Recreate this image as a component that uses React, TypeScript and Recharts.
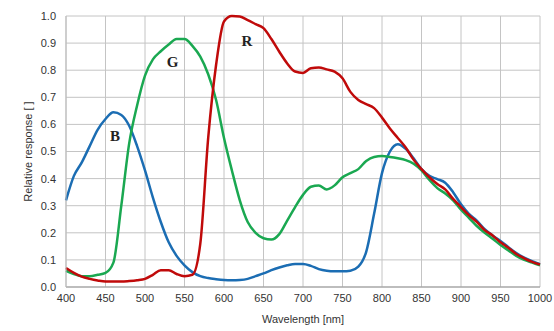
import { CartesianGrid, Line, LineChart, ReferenceDot, XAxis, YAxis } from "recharts";

const wavelengths = [
  400, 410, 420, 430, 440, 450, 460, 470, 480, 490,
  500, 510, 520, 530, 540, 550, 560, 570, 580, 590,
  600, 610, 620, 630, 640, 650, 660, 670, 680, 690,
  700, 710, 720, 730, 740, 750, 760, 770, 780, 790,
  800, 810, 820, 830, 840, 850, 860, 870, 880, 890,
  900, 910, 920, 930, 940, 950, 960, 970, 980, 990, 1000,
];

const blue = [
  0.32, 0.41, 0.46, 0.52, 0.58, 0.62, 0.645, 0.635, 0.595, 0.52,
  0.43, 0.33, 0.24, 0.165, 0.115, 0.08, 0.055, 0.04, 0.033, 0.029,
  0.026, 0.025, 0.026, 0.03, 0.04, 0.05, 0.062, 0.072, 0.08, 0.085,
  0.085, 0.078, 0.066, 0.06, 0.058, 0.058, 0.06, 0.075, 0.13, 0.27,
  0.42, 0.5, 0.527, 0.51, 0.475, 0.435, 0.41, 0.398, 0.385, 0.35,
  0.305, 0.27, 0.245, 0.213, 0.19, 0.17, 0.147, 0.125, 0.108, 0.095, 0.084,
];

const green = [
  0.06, 0.048, 0.04, 0.04, 0.045, 0.052, 0.09, 0.3, 0.53, 0.67,
  0.78, 0.84, 0.87, 0.895, 0.915, 0.915, 0.89, 0.85, 0.785, 0.69,
  0.55, 0.43, 0.32, 0.24, 0.2, 0.18, 0.175, 0.195, 0.245, 0.295,
  0.34, 0.37, 0.375, 0.36, 0.375, 0.405, 0.42, 0.435, 0.465, 0.48,
  0.483, 0.48, 0.475, 0.468, 0.455, 0.43, 0.395, 0.365, 0.345, 0.32,
  0.285, 0.255, 0.225, 0.2, 0.178, 0.155, 0.135, 0.115, 0.1, 0.09, 0.08,
];

const red = [
  0.07, 0.052, 0.038, 0.03, 0.024, 0.02, 0.02, 0.02, 0.022, 0.025,
  0.03, 0.045, 0.062, 0.062, 0.048, 0.04, 0.045, 0.16, 0.55, 0.82,
  0.98, 1.0, 0.998, 0.985, 0.97, 0.955, 0.915, 0.868, 0.825, 0.795,
  0.79, 0.807, 0.81, 0.803, 0.795, 0.77, 0.72, 0.69, 0.675, 0.66,
  0.625, 0.585, 0.55, 0.515, 0.47, 0.435, 0.405, 0.38, 0.36, 0.325,
  0.295, 0.265, 0.24, 0.21, 0.19, 0.165, 0.145, 0.122, 0.106, 0.093, 0.083,
];

const xTicks = [400, 450, 500, 550, 600, 650, 700, 750, 800, 850, 900, 950, 1000];
const yTicks = [0, 0.1, 0.2, 0.3, 0.4, 0.5, 0.6, 0.7, 0.8, 0.9, 1.0];

const channelLabels = [
  { text: "B", x: 462, y: 0.557 },
  { text: "G", x: 535, y: 0.83 },
  { text: "R", x: 629, y: 0.908 },
];

const data = wavelengths.map((nm, i) => ({
  nm,
  blue: blue[i],
  green: green[i],
  red: red[i],
}));

const tickStyle = { fontFamily: "Liberation Sans, Arial, sans-serif", fontSize: 11, fill: "#333" };

export default function App() {
  return (
    <div style={{ position: "absolute", left: 0, top: 0, background: "#fff" }}>
      <LineChart
        width={554}
        height={331}
        data={data}
        margin={{ top: 16, right: 14, bottom: 0, left: 0 }}
      >
        <CartesianGrid stroke="#c4c4c4" strokeWidth={1} />
        <XAxis
          dataKey="nm"
          type="number"
          domain={[400, 1000]}
          ticks={xTicks}
          height={44}
          tickLine={false}
          tickSize={0}
          tickMargin={7}
          axisLine={{ stroke: "#999" }}
          tick={tickStyle}
          label={{
            value: "Wavelength [nm]",
            position: "insideBottom",
            offset: 8,
            style: { ...tickStyle, fontSize: 11 },
          }}
        />
        <YAxis
          type="number"
          domain={[0, 1]}
          ticks={yTicks}
          width={66}
          tickLine={false}
          tickSize={0}
          tickMargin={10}
          axisLine={{ stroke: "#bbb" }}
          tickFormatter={(v: number) => v.toFixed(1)}
          tick={tickStyle}
          label={{
            value: "Relative response [ ]",
            angle: -90,
            position: "insideLeft",
            offset: 28,
            style: { ...tickStyle, fontSize: 11, textAnchor: "middle" },
          }}
        />
        <Line type="monotone" dataKey="blue" stroke="#1b6db3" strokeWidth={2.5} dot={false} isAnimationActive={false} />
        <Line type="monotone" dataKey="green" stroke="#1aa851" strokeWidth={2.5} dot={false} isAnimationActive={false} />
        <Line type="monotone" dataKey="red" stroke="#c00a0a" strokeWidth={2.5} dot={false} isAnimationActive={false} />
        {channelLabels.map((l) => (
          <ReferenceDot
            key={l.text}
            x={l.x}
            y={l.y}
            r={0}
            fill="none"
            stroke="none"
            label={{
              value: l.text,
              position: "center",
              style: { fontFamily: "Liberation Serif, Times New Roman, serif", fontSize: 15, fontWeight: "bold", fill: "#222" },
            }}
          />
        ))}
      </LineChart>
    </div>
  );
}
